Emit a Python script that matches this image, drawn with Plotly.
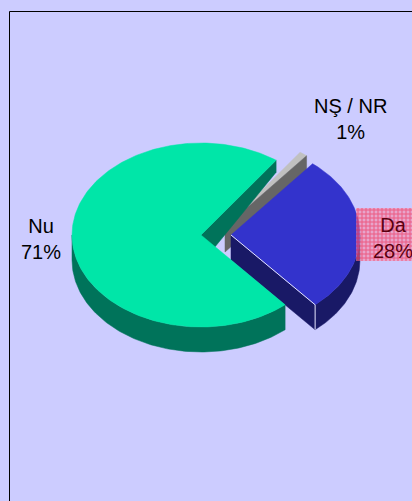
import math
import plotly.graph_objects as go

labels = ["Da", "NŞ / NR", "Nu"]
shares = [27.8, 1.0, 71.2]
share_labels = ["28%", "1%", "71%"]
top_colors = ["#3333CC", "#C0C0C0", "#00E6A8"]
side_colors = ["#191966", "#666666", "#00735A"]
explode = [(30, 0), (24, -8), (0, 0)]

W, H = 412, 501
CX, CY, RX, RY, DEPTH = 201, 235, 129, 92, 25
START = -49.3  # lower edge of the first slice, degrees above the horizontal


def pt(t, dx, dy, drop=0):
    a = math.radians(t)
    return CX + dx + RX * math.cos(a), CY + dy - RY * math.sin(a) + drop


def arc(t0, t1, dx, dy, drop=0):
    n = max(2, int(abs(t1 - t0)) + 1)
    return [pt(t0 + (t1 - t0) * i / (n - 1), dx, dy, drop) for i in range(n)]


def poly(fig, points, color):
    xs = [p[0] for p in points] + [points[0][0]]
    ys = [p[1] for p in points] + [points[0][1]]
    fig.add_trace(go.Scatter(x=xs, y=ys, mode="lines", fill="toself", fillcolor=color,
                             line=dict(color=color, width=0.5), hoverinfo="skip",
                             showlegend=False))


spans = []
t = START
for s in shares:
    spans.append((t, t + s * 3.6))
    t += s * 3.6

fig = go.Figure()

# grey slice
t0, t1 = spans[1]
dx, dy = explode[1]
apex = (CX + dx, CY + dy)
low = pt(t0, dx, dy)
poly(fig, [apex] + arc(t0, t1, dx, dy), top_colors[1])
poly(fig, [apex, low, (low[0], low[1] + DEPTH), (apex[0], apex[1] + DEPTH)], side_colors[1])

# blue slice
t0, t1 = spans[0]
dx, dy = explode[0]
apex = (CX + dx, CY + dy)
low = pt(t0, dx, dy)
poly(fig, arc(t0, 0, dx, dy) + arc(0, t0, dx, dy, DEPTH), side_colors[0])
poly(fig, [apex, low, (low[0], low[1] + DEPTH), (apex[0], apex[1] + DEPTH)], side_colors[0])
poly(fig, [apex] + arc(t0, t1, dx, dy), top_colors[0])
fig.add_trace(go.Scatter(x=[apex[0], low[0], low[0]], y=[apex[1], low[1], low[1] + DEPTH],
                         mode="lines", line=dict(color="#E6E6FF", width=1),
                         hoverinfo="skip", showlegend=False))

# green slice
t0, t1 = spans[2]
dx, dy = explode[2]
apex = (CX + dx, CY + dy)
upper = pt(t0, dx, dy)
poly(fig, [apex, upper, (upper[0], upper[1] + 12), (apex[0], apex[1] + 29)], side_colors[2])
poly(fig, arc(180, t1, dx, dy) + arc(t1, 180, dx, dy, DEPTH), side_colors[2])
poly(fig, [apex] + arc(t0, t1, dx, dy), top_colors[2])

# patterned label box
fig.add_trace(go.Scatter(x=[356, 412, 412, 356, 356], y=[208, 208, 261, 261, 208], mode="lines",
                         fill="toself", line=dict(width=0), hoverinfo="skip", showlegend=False,
                         fillcolor="rgba(0,0,0,0)",
                         fillpattern=dict(shape="+", size=4, solidity=0.45,
                                          fgcolor="#F01038", bgcolor="rgba(255,130,160,0.55)")))

font = dict(family="Liberation Sans, Arial, sans-serif", size=20, color="#000000")
notes = [(393, 238, f"{labels[0]}<br>{share_labels[0]}", "#5A0010"),
         (350, 119, f"{labels[1]}<br>{share_labels[1]}", "#000000"),
         (41, 239, f"{labels[2]}<br>{share_labels[2]}", "#000000")]
for x, y, text, color in notes:
    fig.add_annotation(x=x, y=y, text=text, showarrow=False, xanchor="center", yanchor="middle",
                       font={**font, "color": color}, align="center")

fig.add_shape(type="line", x0=9.5, x1=9.5, y0=11.5, y1=501, line=dict(color="#000000", width=1))
fig.add_shape(type="line", x0=9.5, x1=412, y0=11.5, y1=11.5, line=dict(color="#000000", width=1))

fig.update_layout(width=W, height=H, margin=dict(l=0, r=0, t=0, b=0), paper_bgcolor="#CCCCFF",
                  plot_bgcolor="#CCCCFF", showlegend=False)
fig.update_xaxes(range=[0, W], visible=False, fixedrange=True)
fig.update_yaxes(range=[H, 0], visible=False, fixedrange=True)
fig.write_html("out.html", config=dict(displayModeBar=False, staticPlot=True),
               post_script="document.body.style.margin='0';document.body.style.background='#CCCCFF';")
